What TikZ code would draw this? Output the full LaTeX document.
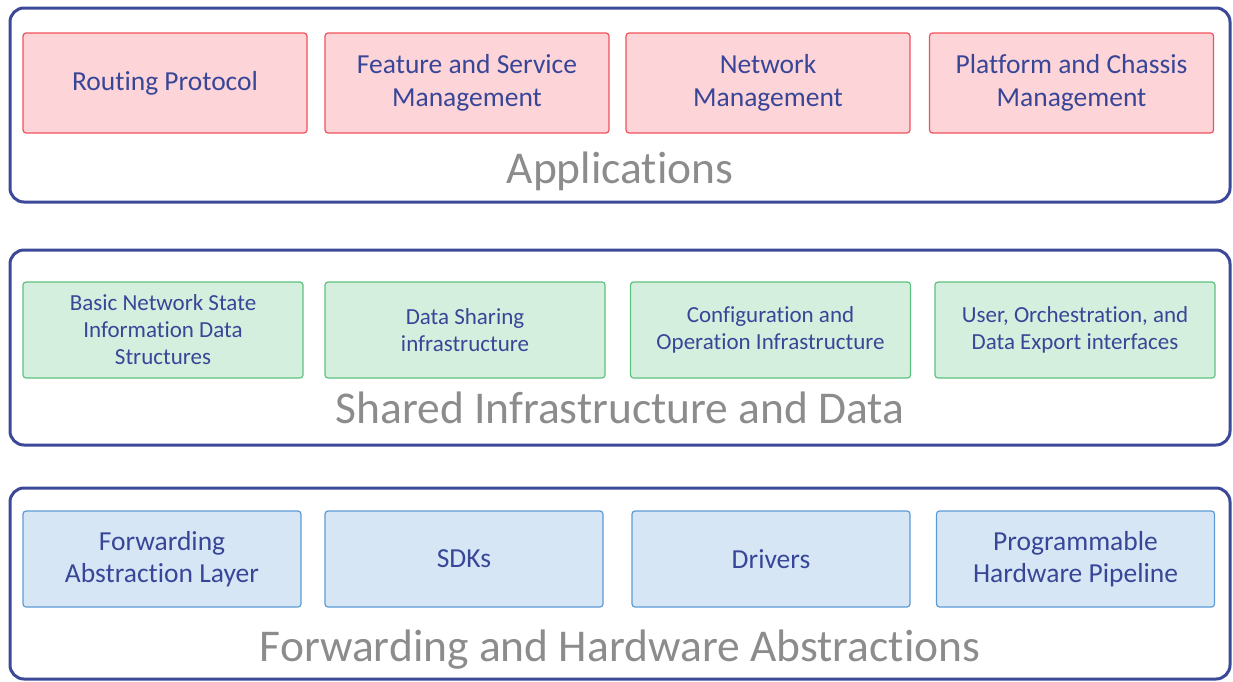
\documentclass[tikz,border=0pt]{standalone}
\usepackage{fontspec}
\setmainfont{Carlito}[Ligatures=NoCommon]
\usetikzlibrary{positioning}

\definecolor{layerblue}{RGB}{60,72,152}
\definecolor{txtblue}{RGB}{56,70,152}
\definecolor{titlegray}{RGB}{140,140,140}
\definecolor{appfill}{RGB}{253,212,216}
\definecolor{appdraw}{RGB}{240,82,92}
\definecolor{infrafill}{RGB}{213,239,222}
\definecolor{infradraw}{RGB}{92,194,125}
\definecolor{fwdfill}{RGB}{214,230,245}
\definecolor{fwddraw}{RGB}{91,155,213}

\tikzset{
  layer/.style={draw=layerblue, line width=3pt, rounded corners=14pt},
  box/.style={rectangle, rounded corners=3pt, line width=1.2pt, align=center,
    text=txtblue, inner sep=0pt},
  appbox/.style={box, fill=appfill, draw=appdraw, minimum width=284pt,
    minimum height=100pt, font=\fontsize{27.5}{32.5}\selectfont},
  infrabox/.style={box, fill=infrafill, draw=infradraw, minimum width=280pt,
    minimum height=96pt, font=\fontsize{23}{27}\selectfont},
  fwdbox/.style={box, fill=fwdfill, draw=fwddraw, minimum width=278pt,
    minimum height=96pt, font=\fontsize{27.5}{32.5}\selectfont},
  layertitle/.style={text=titlegray, anchor=base, inner sep=0pt,
    font=\fontsize{45.5}{54}\selectfont}
}

\begin{document}
\begin{tikzpicture}[x=1pt, y=-1pt]
    \useasboundingbox (0,0) rectangle (1233,681);

    % Layers
    \draw[layer] (10,8) rectangle (1230,202);
    \draw[layer] (10,250) rectangle (1230,445);
    \draw[layer] (10,488) rectangle (1230,679);

    % Applications
    \node[appbox] (routing) at (165,83) {Routing Protocol};
    \node[appbox] (feature) at (467,83) {Feature and Service\\Management};
    \node[appbox] (netmgmt) at (768,83) {Network\\Management};
    \node[appbox] (platform) at (1071.5,83) {Platform and Chassis\\Management};
    \node[layertitle] (apptitle) at (620,183) {Applications};

    % Shared infrastructure and data
    \node[infrabox] (netstate) at (163,330) {Basic Network State\\Information Data\\Structures};
    \node[infrabox] (sharing) at (465,330) {Data Sharing\\infrastructure};
    \node[infrabox] (config) at (770.5,330) {Configuration and\\Operation Infrastructure};
    \node[infrabox] (export) at (1075,330) {User, Orchestration, and\\Data Export interfaces};
    \node[layertitle] (infratitle) at (620,423) {Shared Infrastructure and Data};

    % Forwarding and hardware
    \node[fwdbox] (fal) at (162,559) {Forwarding\\Abstraction Layer};
    \node[fwdbox] (sdks) at (464,559) {SDKs};
    \node[fwdbox] (drivers) at (771,559) {Drivers};
    \node[fwdbox] (pipeline) at (1075.5,559) {Programmable\\Hardware Pipeline};
    \node[layertitle] (fwdtitle) at (620,661) {Forwarding and Hardware Abstractions};
\end{tikzpicture}
\end{document}
